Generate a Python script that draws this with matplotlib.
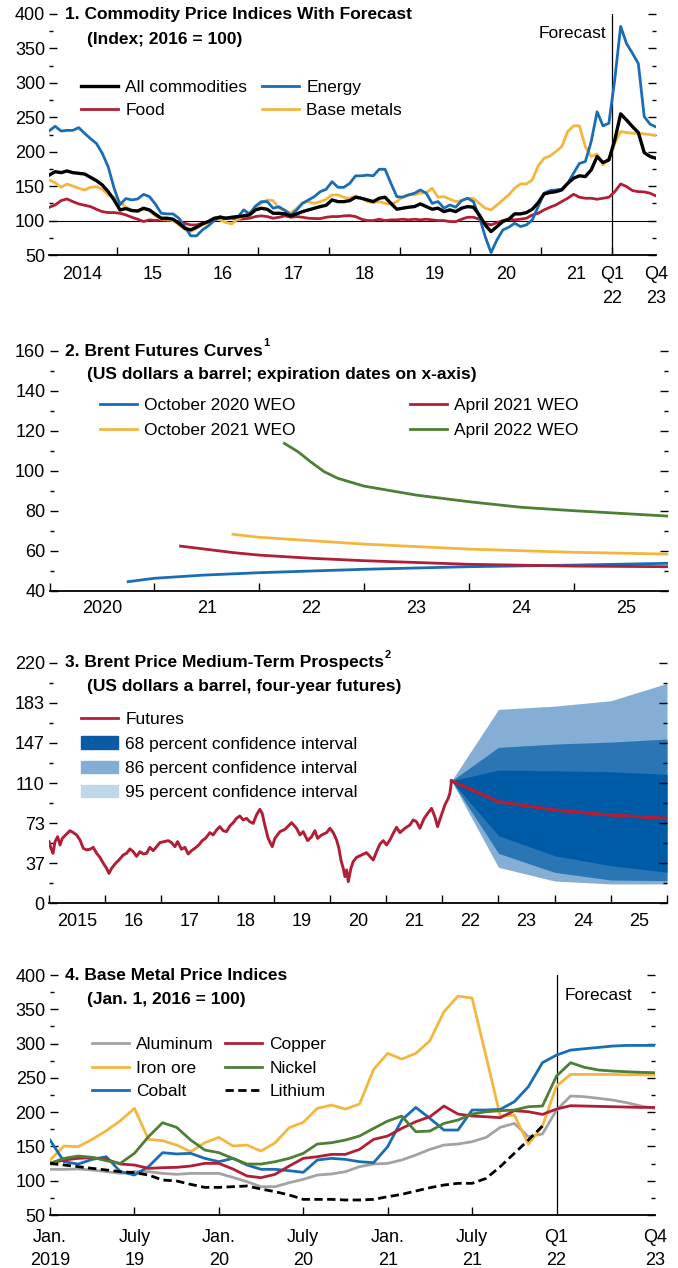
import numpy as np
import matplotlib.pyplot as plt
from matplotlib.lines import Line2D
from matplotlib.patches import Patch
from matplotlib.legend import Legend
from matplotlib.ticker import NullFormatter

plt.rcParams['font.family'] = ['Liberation Sans Narrow', 'Liberation Sans', 'DejaVu Sans']
FS = 12.5
TFS = 13

#%%
### Panel 1: monthly Jan 2014 - Dec 2021, then quarterly Q1 2022 - Q4 2023 ###
p1_all = [166.2, 171, 169.6, 172, 169.6, 168.6, 167.6, 162.8, 158, 151.7, 142, 130,
          115.5, 117.4, 114.5, 114, 117.9, 115.5, 109.2, 103.4, 103.4, 102, 96.1, 88.9,
          86.5, 90.3, 95.2, 98.6, 103.4, 104.8, 103.4, 104.8, 105.8, 106.8, 108.2, 115.5,
          117.9, 116.4, 110.6, 110.6, 109.7, 106.8, 109.7, 113, 115.5, 117.9, 120.3, 122.2,
          130, 127.5, 127.5, 129, 133.9, 132.4, 130, 127.6, 132.4, 133.9, 125, 116.5,
          118, 119.4, 120.3, 124.2, 120.3, 116.5, 118, 113, 115.5, 113, 118, 120.3,
          119.4, 108.2, 93.7, 84, 91.3, 98.6, 102, 109.7, 109.7, 111.6, 116.5, 126,
          138.7, 140.7, 142, 144.5, 154, 161.5, 165, 163.9, 173.6, 193, 184.2, 188,
          217, 255, 246, 236.5, 227.8, 198.7, 193, 190.5]
p1_energy = [230.4, 237, 230, 231, 231, 235, 226.6, 219, 212, 197.6, 178, 147,
             123, 132, 130, 131.4, 138, 134.8, 124, 110.6, 109.7, 109.7, 103.4, 91.3,
             77.8, 77.8, 86.5, 92.3, 100, 105.8, 103.4, 104.8, 104.8, 115.5, 109.7, 121,
             127.5, 127.5, 118, 120, 114.5, 108, 115.5, 125, 130, 134.8, 142, 145.4,
             156.5, 148.3, 148.3, 154, 165, 165, 166, 165, 174.5, 174.5, 154, 134.8,
             133.9, 137.3, 139.7, 144.5, 139.7, 125, 127.6, 118, 122.7, 119.4, 129, 132.4,
             127.6, 105.8, 76.8, 53.5, 72, 86.4, 90.3, 96.1, 91.3, 93.7, 101, 120.3,
             139.7, 143.6, 144.5, 145.5, 154, 168.7, 183, 185.7, 214.7, 258, 237.5, 241.3,
             305, 382, 357, 343, 328, 251, 240, 236]
p1_food = [119.3, 122.7, 129, 131.4, 127.5, 124.2, 122.2, 120.3, 116.4, 113, 111.6, 111.6,
           110.6, 108.2, 104.8, 102, 98.6, 101, 100, 101, 100, 100, 98.1, 96.1,
           93.7, 93.7, 96.1, 98.6, 101, 102.4, 103.4, 103.4, 102, 102.4, 103.4, 105.8,
           106.8, 105.8, 103.4, 104.8, 106.8, 104.8, 105.8, 104.8, 103.4, 102.9, 102.9, 104.8,
           105.8, 105.8, 106.8, 107.2, 105.8, 102, 100, 100, 102, 100, 101, 101,
           102, 101, 102, 101, 102, 101, 100, 100, 98.5, 98.5, 102, 104.8,
           104.8, 102, 96.1, 93.7, 97, 100, 102, 101, 102, 103.4, 108.2, 110.6,
           115.5, 119.4, 122.7, 127.6, 132.4, 138.2, 133.9, 132.4, 132.4, 131, 132.4, 133.9,
           142, 153.2, 149.4, 143.6, 142, 141.6, 139.7, 135.8]
p1_metals = [159, 155, 148.3, 153, 150.2, 146.9, 144.4, 148.3, 149.3, 145.4, 137.2, 133.8,
             127.5, 119.3, 115.5, 113, 116.4, 114.5, 106.8, 102, 102, 100, 93.7, 87.4,
             84.1, 88.9, 93.7, 97.1, 102, 101, 97.1, 95.2, 102, 106.8, 110.6, 119.3,
             125, 130, 129, 117.9, 115.5, 110.6, 117.9, 126.1, 127.5, 125, 127.5, 130.9,
             137.2, 137.2, 133.8, 132.4, 135.8, 132.4, 127.6, 126, 127.6, 125, 123.7, 127.6,
             134.8, 137.3, 137.3, 139.7, 140.7, 147, 133.9, 134.8, 131, 127.6, 129, 132.4,
             132.4, 125, 118, 115.5, 122.7, 130, 137.3, 147, 153.2, 153.2, 159, 179.4,
             190.5, 193.9, 200.2, 207.5, 229.2, 237.5, 237.5, 207.5, 193, 196.8, 180.8, 190.5,
             212.3, 229.2, 227.8, 226.8, 226.8, 225.8, 224.9, 223.9]
p1_xlabels = ['2014', '15', '16', '17', '18', '19', '20', '21', 'Q1\n22', 'Q4\n23']

### Panel 2: Brent futures curves (expiration date, USD/barrel) ###
oct20_t = [2020.75, 2021.0, 2021.47, 2022.0, 2023.0, 2024.0, 2025.0, 2025.9]
oct20_v = [44.5, 46.2, 47.8, 49.0, 50.7, 52.0, 52.8, 53.7]
apr21_t = [2021.25, 2021.76, 2022.0, 2022.5, 2023.0, 2024.0, 2025.0, 2025.9]
apr21_v = [62.3, 59.0, 57.8, 56.2, 55.0, 53.2, 52.3, 52.0]
oct21_t = [2021.75, 2022.0, 2023.0, 2024.0, 2025.0, 2025.9]
oct21_v = [68.2, 66.7, 63.3, 60.8, 59.2, 58.3]
apr22_t = [2022.24, 2022.37, 2022.49, 2022.62, 2022.75, 2023.0, 2023.5, 2024.0, 2024.5, 2025.0, 2025.5, 2025.9]
apr22_v = [113.7, 109.5, 104.5, 99.5, 96.2, 92.3, 87.8, 84.5, 81.7, 80.0, 78.5, 77.3]
p2_xlabels = ['2020', '21', '22', '23', '24', '25']

### Panel 3: Brent spot history and fan ###
brent_t = [2015.000, 2015.036, 2015.071, 2015.107, 2015.154, 2015.196, 2015.237, 2015.296, 2015.373,
           2015.433, 2015.492, 2015.551, 2015.611, 2015.670, 2015.729, 2015.788, 2015.848, 2015.907,
           2015.966, 2016.025, 2016.067, 2016.114, 2016.186, 2016.245, 2016.322, 2016.381, 2016.440,
           2016.500, 2016.559, 2016.618, 2016.678, 2016.737, 2016.796, 2016.855, 2016.915, 2016.974,
           2017.051, 2017.122, 2017.181, 2017.241, 2017.288, 2017.359, 2017.418, 2017.478, 2017.537,
           2017.596, 2017.667, 2017.727, 2017.786, 2017.863, 2017.922, 2017.982, 2018.041, 2018.100,
           2018.159, 2018.219, 2018.278, 2018.337, 2018.397, 2018.456, 2018.515, 2018.574, 2018.634,
           2018.693, 2018.752, 2018.794, 2018.841, 2018.900, 2018.974, 2019.021, 2019.110, 2019.199,
           2019.318, 2019.407, 2019.466, 2019.525, 2019.603, 2019.674, 2019.733, 2019.781, 2019.852,
           2019.941, 2020.000, 2020.059, 2020.119, 2020.160, 2020.196, 2020.237, 2020.267, 2020.297,
           2020.327, 2020.374, 2020.415, 2020.475, 2020.564, 2020.653, 2020.712, 2020.771, 2020.830,
           2020.890, 2020.949, 2021.008, 2021.068, 2021.127, 2021.186, 2021.246, 2021.335, 2021.423,
           2021.483, 2021.542, 2021.601, 2021.678, 2021.750, 2021.809, 2021.868, 2021.916, 2021.975,
           2022.046, 2022.106, 2022.135, 2022.165]
brent_v = [56.4, 50.3, 45.7, 56.4, 60.9, 53.3, 59.4, 62.5, 66.4,
           64.6, 62.5, 57.9, 50.3, 48.8, 49.4, 51.2, 45.7, 42.0,
           36.6, 32.0, 27.4, 32.0, 36.6, 39.6, 44.2, 45.7, 49.7,
           47.2, 42.9, 47.2, 45.1, 45.7, 51.2, 48.1, 51.8, 55.5,
           56.4, 57.3, 55.5, 51.8, 56.4, 49.4, 51.2, 45.1, 48.1,
           50.3, 53.3, 57.3, 59.4, 64.6, 62.5, 67.0, 70.1, 66.4,
           65.5, 70.7, 73.7, 77.7, 79.8, 76.2, 77.7, 74.6, 73.1,
           80.7, 85.9, 82.3, 71.6, 59.4, 51.8, 59.4, 65.5, 67.6,
           73.7, 68.6, 62.5, 65.5, 57.3, 60.9, 66.4, 59.4, 62.5,
           64.6, 68.6, 64.6, 57.9, 50.3, 39.6, 32.0, 24.4, 30.5,
           19.8, 32.0, 38.1, 42.0, 44.2, 46.3, 42.9, 39.6, 47.2,
           54.2, 57.3, 53.3, 57.9, 64.0, 69.5, 64.6, 68.6, 71.6,
           76.2, 74.6, 68.6, 77.7, 82.9, 86.8, 79.2, 70.1, 79.2,
           89.9, 96.0, 100.5, 112.0]
fan_t = [2022.165, 2023.0, 2024.0, 2025.0, 2026.0]
futures = [112.0, 92.9, 85.3, 80.7, 77.6]
ci68_hi = [112.0, 121.8, 121.2, 120.3, 117.9]
ci68_lo = [112.0, 61.8, 43.5, 34.4, 28.3]
ci86_hi = [112.0, 142.6, 145.6, 147.4, 150.2]
ci86_lo = [112.0, 45.7, 28.3, 21.3, 20.7]
ci95_hi = [112.0, 177.3, 180.3, 185.2, 201.1]
ci95_lo = [112.0, 32.9, 20.4, 17.7, 17.7]
p3_xlabels = ['2015', '16', '17', '18', '19', '20', '21', '22', '23', '24', '25']
p3_yticks = [0, 220 / 6, 220 / 3, 110, 440 / 3, 550 / 3, 220]
p3_ylabels = ['0', '37', '73', '110', '147', '183', '220']

### Panel 4: base metals, monthly Jan 2019 - Dec 2021, then quarterly to Q4 2023 ###
aluminum = [116.6, 116.6, 117.1, 115.6, 113.2, 110.7, 113.2, 113.2, 110.7, 109.3, 110.7, 110.7,
            110.7, 104.9, 98.6, 91.3, 91.3, 97.1, 102, 108.3, 109.8, 113.2, 120.5, 124.3,
            125.3, 130.2, 137.5, 145.7, 152, 153.5, 156.9, 163.2, 177.8, 183.6, 164.2, 168.1,
            203.1, 223.5, 222.5, 220.1, 217.6, 213.8, 208.9, 205.5]
iron_ore = [130.2, 150.6, 149.6, 160.3, 172.9, 187.5, 205.5, 160.3, 158.4, 152, 142.3, 155.4,
            163.2, 150.6, 152, 143.3, 155.4, 177.3, 185.1, 205.5, 210.3, 204.5, 211.8, 262.3,
            285.7, 277.4, 285.7, 304.1, 346.4, 369.2, 366.3, 280.8, 194.3, 195.8, 153.5, 179.7,
            238, 255, 255, 255, 255, 254.5, 254.5, 254]
cobalt = [159.3, 127.7, 124.3, 131.1, 135, 113.2, 108.3, 120.5, 140.9, 139, 139.9, 132.6,
          127.7, 132.6, 122.9, 116.6, 116.6, 114.6, 112.2, 130.2, 132.6, 131.1, 127.7, 126.3,
          149.6, 188.5, 206.9, 190.9, 173.9, 173.9, 203.1, 203.1, 204, 215.2, 237.1, 272.1,
          283.2, 290.5, 292.5, 294.4, 296.4, 297.3, 297.3, 297.3]
copper = [125.3, 130.2, 132.6, 133.6, 131.1, 124.3, 122.9, 118, 119, 119.5, 121.4, 125.3,
          125.3, 117.1, 106.9, 104.4, 109.3, 121.4, 132.6, 135, 138.4, 138.4, 145.7, 160.3,
          165.2, 176.3, 186.1, 193.3, 208.9, 197.2, 194.3, 193.3, 191.9, 202.1, 200.6, 196.7,
          204.5, 209.4, 208.9, 208.4, 207.9, 207.4, 206.9, 206.9]
nickel = [125.3, 132.6, 136, 134.1, 129.2, 125.3, 139.9, 164.2, 184.6, 177.8, 159.3, 144.8,
          140.9, 132.6, 124.3, 124.3, 127.7, 132.6, 139.9, 153.5, 155.4, 159.3, 165.2, 176.3,
          187, 194.3, 171.5, 172.4, 183.6, 188.5, 197.2, 200.6, 202.1, 203.1, 207.9, 208.9,
          252.6, 272.1, 265.3, 261.4, 259.9, 258.9, 258, 257.5]
lithium = [125.3, 122.9, 120.5, 118, 115.6, 113.2, 111.7, 108.3, 101, 99.6, 94.7, 90.3,
           90.3, 91.3, 92.3, 87.9, 84, 79.2, 72.8, 72.8, 72.8, 71.9, 71.9, 72.8,
           76.7, 80.1, 85, 89.8, 93.7, 96.2, 96.2, 103.4, 120.5, 139.9, 159.3, 179.7]
p4_xlabels = ['Jan.\n2019', 'July\n19', 'Jan.\n20', 'July\n20', 'Jan.\n21', 'July\n21', 'Q1\n22', 'Q4\n23']

#%%
### Colours ###
BLACK = '#000000'
BLUE = '#1A6DB4'
RED = '#B01F35'
YELLOW = '#F3B740'
GREEN = '#4E7F36'
GREY = '#A3A3A3'
FAN68 = '#005BA6'
FAN86 = '#2A76B5'
FAN95 = '#84AED4'

W, H = 678, 1268
fig = plt.figure(figsize=(W / 100, H / 100), dpi=100)


def px_axes(left, right, top, bottom):
    return fig.add_axes([left / W, 1 - bottom / H, (right - left) / W, (bottom - top) / H])


def style_axes(ax, ylim, ymajor, yminor, ylabels=None):
    for s in ['top', 'left', 'right']:
        ax.spines[s].set_visible(False)
    ax.spines['bottom'].set_linewidth(1.3)
    ax.set_ylim(*ylim)
    ax.set_yticks(ymajor)
    if ylabels is not None:
        ax.set_yticklabels(ylabels)
    ax.set_yticks(yminor, minor=True)
    ax.tick_params(axis='y', which='both', direction='in', left=True, right=True,
                   labelsize=TFS, pad=3, width=1, colors='black')
    ax.tick_params(axis='y', which='major', length=5.5)
    ax.tick_params(axis='y', which='minor', length=2.8)


def xticks_between(ax, majors, label_pos, labels, pad=7):
    # tick marks at period boundaries, labels centred in the period
    ax.set_xticks(majors)
    ax.xaxis.set_major_formatter(NullFormatter())
    ax.set_xticks(label_pos, minor=True)
    ax.set_xticklabels(labels, minor=True, linespacing=1.55)
    ax.tick_params(axis='x', which='major', direction='in', length=5.5, width=1)
    ax.tick_params(axis='x', which='minor', length=0, pad=pad, labelsize=TFS)


def title(x, y, text, sup=None):
    t = fig.text(x / W, 1 - y / H, text, fontsize=FS, fontweight='bold', va='center', ha='left')
    if sup:
        r = fig.canvas.get_renderer()
        bb = t.get_window_extent(r)
        fig.text((bb.x1 + 1) / W, (1 - (y - 3) / H), sup, fontsize=8, fontweight='bold',
                 va='bottom', ha='left')


def col_legend(ax, handles, labels, x, y_top, spacing=0.46, hl=2.15):
    leg = Legend(ax, handles, labels, loc='upper left', bbox_to_anchor=(x / W, 1 - y_top / H),
                 bbox_transform=fig.transFigure, frameon=False, borderpad=0, borderaxespad=0,
                 handlelength=hl, handletextpad=0.4, labelspacing=spacing, fontsize=FS)
    ax.add_artist(leg)


def line(c, lw=2.0, ls='-'):
    return Line2D([0], [0], color=c, lw=lw, ls=ls)


#%%
### Panel 1 ###
ax1 = px_axes(49.3, 656, 14, 255)
x1 = np.arange(len(p1_all))
ax1.axhline(100, color='black', lw=0.8, zorder=1)
ax1.axvline(95.5, color='black', lw=0.9, zorder=1)
ax1.plot(x1, p1_food, color=RED, lw=2.0, zorder=2)
ax1.plot(x1, p1_metals, color=YELLOW, lw=2.0, zorder=2)
ax1.plot(x1, p1_energy, color=BLUE, lw=2.0, zorder=3)
ax1.plot(x1, p1_all, color=BLACK, lw=2.4, zorder=4)
ax1.set_xlim(0, 103)
style_axes(ax1, (50, 400), np.arange(50, 401, 50), np.arange(75, 400, 50))
xticks_between(ax1, [11.5 + 12 * k for k in range(8)],
               [5.5 + 12 * k for k in range(8)] + [95.6, 103], p1_xlabels, pad=8)
title(65, 15, '1. Commodity Price Indices With Forecast')
title(87, 39.5, '(Index; 2016 = 100)')
fig.text(606 / W, 1 - 34 / H, 'Forecast', fontsize=FS, ha='right', va='center')
col_legend(ax1, [line(BLACK, 2.4), line(RED)], ['All commodities', 'Food'], 81, 80)
col_legend(ax1, [line(BLUE), line(YELLOW)], ['Energy', 'Base metals'], 262, 80)

#%%
### Panel 2 ###
ax2 = px_axes(49.5, 668, 350.7, 590.7)
ax2.plot(oct20_t, oct20_v, color=BLUE, lw=2.0)
ax2.plot(apr21_t, apr21_v, color=RED, lw=2.0)
ax2.plot(oct21_t, oct21_v, color=YELLOW, lw=2.0)
ax2.plot(apr22_t, apr22_v, color=GREEN, lw=2.0)
ax2.set_xlim(2020, 2025.9)
style_axes(ax2, (40, 160), np.arange(40, 161, 20), np.arange(50, 160, 20))
xticks_between(ax2, list(range(2020, 2026)), [2020.5 + k for k in range(6)], p2_xlabels)
title(65, 351, '2. Brent Futures Curves', sup='1')
title(87, 375, '(US dollars a barrel; expiration dates on x-axis)')
col_legend(ax2, [line(BLUE), line(YELLOW)], ['October 2020 WEO', 'October 2021 WEO'], 100, 398,
           spacing=0.54)
col_legend(ax2, [line(RED), line(GREEN)], ['April 2021 WEO', 'April 2022 WEO'], 410, 398,
           spacing=0.54)

#%%
### Panel 3 ###
ax3 = px_axes(49, 667, 662.7, 903.3)
ax3.fill_between(fan_t, ci95_lo, ci95_hi, color=FAN95, lw=0)
ax3.fill_between(fan_t, ci86_lo, ci86_hi, color=FAN86, lw=0)
ax3.fill_between(fan_t, ci68_lo, ci68_hi, color=FAN68, lw=0)
ax3.plot(brent_t, brent_v, color=RED, lw=2.1)
ax3.plot(fan_t, futures, color=RED, lw=2.4)
ax3.set_xlim(2015, 2026)
style_axes(ax3, (0, 220), p3_yticks, [(a + b) / 2 for a, b in zip(p3_yticks[:-1], p3_yticks[1:])],
           p3_ylabels)
xticks_between(ax3, list(range(2015, 2027)), [2015.5 + k for k in range(11)], p3_xlabels)
title(65, 663, '3. Brent Price Medium-Term Prospects', sup='2')
title(87, 687, '(US dollars a barrel, four-year futures)')
col_legend(ax3,
           [line(RED), Patch(color='#0A5AA6'), Patch(color='#82AED4'), Patch(color='#BFD7EB')],
           ['Futures', '68 percent confidence interval', '86 percent confidence interval',
            '95 percent confidence interval'], 81, 712, spacing=0.53)

#%%
### Panel 4 ###
ax4 = px_axes(50, 655, 975, 1215)
x4 = np.arange(len(aluminum))
ax4.axvline(36, color='black', lw=0.9, zorder=1)
ax4.plot(x4, aluminum, color=GREY, lw=2.0)
ax4.plot(x4, iron_ore, color=YELLOW, lw=2.0)
ax4.plot(x4, cobalt, color=BLUE, lw=2.0)
ax4.plot(x4, copper, color=RED, lw=2.0)
ax4.plot(x4, nickel, color=GREEN, lw=2.0)
ax4.plot(np.arange(len(lithium)), lithium, color=BLACK, lw=2.0, ls=(0, (3, 1.6)))
ax4.set_xlim(0, 43)
style_axes(ax4, (50, 400), np.arange(50, 401, 50), np.arange(75, 400, 50))
ax4.set_xticks([0, 6, 12, 18, 24, 30])
ax4.set_xticklabels(p4_xlabels[:6], linespacing=1.45)
ax4.set_xticks([36, 43], minor=True)
ax4.set_xticklabels(p4_xlabels[6:], minor=True, linespacing=1.45)
ax4.tick_params(axis='x', which='major', direction='in', length=5.5, width=1, pad=10, labelsize=TFS)
ax4.tick_params(axis='x', which='minor', length=0, pad=10, labelsize=TFS)
title(65, 975, '4. Base Metal Price Indices')
title(87, 999.5, '(Jan. 1, 2016 = 100)')
fig.text(565 / W, 1 - 996 / H, 'Forecast', fontsize=FS, ha='left', va='center')
col_legend(ax4, [line(GREY), line(YELLOW), line(BLUE)], ['Aluminum', 'Iron ore', 'Cobalt'], 92, 1037,
           spacing=0.48)
col_legend(ax4, [line(RED), line(GREEN), line(BLACK, 2.0, (0, (3, 1.6)))],
           ['Copper', 'Nickel', 'Lithium'], 225, 1037, spacing=0.48)

fig.savefig('out.png', dpi=100, facecolor='white')
